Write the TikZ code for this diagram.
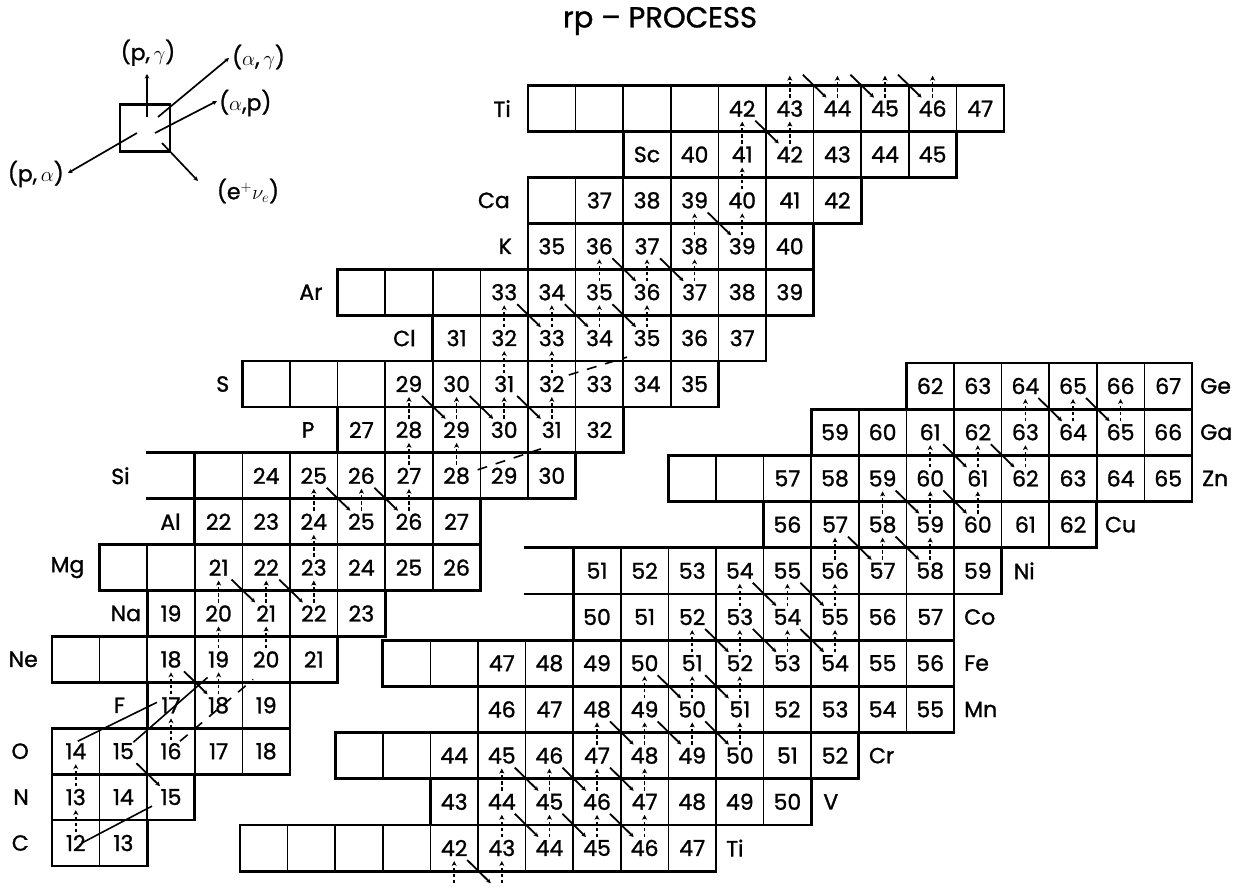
\documentclass[tikz,border=0pt]{standalone}
\usepackage{fontspec}
\setmainfont{Poppins}
\usetikzlibrary{arrows.meta,calc}
\newcommand\cellfont{\fontsize{22}{24}\selectfont\addfontfeatures{FakeBold=1.2}}
\newcommand\urow[5]{%
  \foreach \n in {#3,...,#5}{%
    \pgfmathtruncatemacro\A{#2+\n}%
    \ifnum\n<#4\relax
      \node[cell] (#1-n\n) at ({75.8+47.6*(\n-6)},{843-45.9*(#2-6)}) {};%
    \else
      \node[cell] (#1\A) at ({75.8+47.6*(\n-6)},{843-45.9*(#2-6)}) {\A};%
    \fi}%
  \draw[frame] ({52+47.6*(#3-6)},{820.05-45.9*(#2-6)}) rectangle ({52+47.6*(#5-5)},{865.95-45.9*(#2-6)});%
}
\newcommand\lrow[5]{%
  \foreach \n in {#3,...,#5}{%
    \pgfmathtruncatemacro\A{#2+\n}%
    \ifnum\n<#4\relax
      \node[lcell] (#1-n\n) at ({263.8+47.6*(\n-16)},{848-46.2*(#2-22)}) {};%
    \else
      \node[lcell] (#1\A) at ({263.8+47.6*(\n-16)},{848-46.2*(#2-22)}) {\A};%
    \fi}%
  \draw[frame] ({240+47.6*(#3-16)},{824.9-46.2*(#2-22)}) rectangle ({240+47.6*(#5-15)},{871.1-46.2*(#2-22)});%
}
\newcommand\pgar[2]{\draw[pg] ([yshift=11pt]#1.center) -- ([yshift=-13pt]#2.center);}
\newcommand\bpar[2]{\draw[bp] ([shift={(13pt,-12pt)}]#1.center) -- ([shift={(-11pt,11pt)}]#2.center);}
\begin{document}
\begin{tikzpicture}[x=1pt,y=-1pt,
  cell/.style={draw,line width=1.5pt,minimum width=47.6pt,minimum height=45.9pt,inner sep=0pt,outer sep=0pt,font=\cellfont},
  lcell/.style={cell,minimum height=46.2pt},
  frame/.style={line width=2.8pt,line join=miter},
  elab/.style={font=\cellfont,inner sep=0pt},
  pg/.style={line width=1.5pt,dash pattern=on 3.5pt off 2.5pt,-{Stealth[length=5pt,width=5pt]}},
  bp/.style={line width=1.8pt,-{Stealth[length=4.5pt,width=4.5pt]}},
  ap/.style={line width=1.6pt},
  apd/.style={line width=1.6pt,dash pattern=on 10pt off 9pt},
  leg/.style={line width=1.7pt,-{Stealth[length=4.5pt,width=4.5pt]}},
]
\fill[white] (0,0) rectangle (1243,889);
\useasboundingbox (0,0) rectangle (1243,889);

% title
\node[font=\fontsize{29}{32}\selectfont\addfontfeatures{FakeBold=1.2}] (title) at (660,21) {rp -- PROCESS};

% legend
\node[draw,line width=2.2pt,minimum width=50pt,minimum height=47pt,inner sep=0pt] (leg) at (145,128) {};
\node[elab,anchor=south] (lpg) at (148,66) {(p,\,$\gamma$)};
\node[elab,anchor=west] (lag) at (232,57) {($\alpha$,\,$\gamma$)};
\node[elab,anchor=west] (lap) at (219,103) {($\alpha$,p)};
\node[elab,anchor=east] (lpa) at (64,174) {(p,\,$\alpha$)};
\node[elab] (lev) at (248,191) {(e$^{+}\nu_{e}$)};
\coordinate (lpgE) at (147,74);
\coordinate (lagE) at (229,58);
\coordinate (lapE) at (217,101);
\coordinate (lpaE) at (68,173);
\coordinate (levE) at (198,181);
\draw[leg] ([shift={(2pt,11pt)}]leg.center) -- (lpgE);
\draw[leg] ([shift={(13pt,11pt)}]leg.center) -- (lagE);
\draw[leg] ([shift={(10pt,-5pt)}]leg.center) -- (lapE);
\draw[leg] ([shift={(-8pt,-5pt)}]leg.center) -- (lpaE);
\draw[leg] ([shift={(17pt,-15pt)}]leg.center) -- (levE);

% ---------- upper-left chart ----------
\urow{Ti}{22}{16}{20}{25}
\urow{Sc}{21}{18}{19}{24}
\urow{Ca}{20}{16}{17}{22}
\urow{K}{19}{16}{16}{21}
\urow{Ar}{18}{12}{15}{21}
\urow{Cl}{17}{14}{14}{20}
\urow{S}{16}{10}{13}{19}
\urow{P}{15}{12}{12}{17}
\urow{Si}{14}{9}{10}{16}
\urow{Al}{13}{9}{9}{14}
\urow{Mg}{12}{7}{9}{14}
\urow{Na}{11}{8}{8}{12}
\urow{Ne}{10}{6}{8}{11}
\urow{F}{9}{8}{8}{10}
\urow{O}{8}{6}{6}{10}
\urow{N}{7}{6}{6}{8}
\urow{C}{6}{6}{6}{7}
\draw[frame] ([xshift=-49pt]Si-n9.north west) -- (Si-n9.north west);
\draw[frame] ([xshift=-49pt]Si-n9.south west) -- (Si-n9.south west);

\node[elab] at (Sc-n18) {Sc};
\node[elab,anchor=east] at ([xshift=-17pt]Ti-n16.west) {Ti};
\node[elab,anchor=east] at ([xshift=-18pt]Ca-n16.west) {Ca};
\node[elab,anchor=east] at ([xshift=-16pt]K35.west) {K};
\node[elab,anchor=east] at ([xshift=-15pt]Ar-n12.west) {Ar};
\node[elab,anchor=east] at ([xshift=-17pt]Cl31.west) {Cl};
\node[elab,anchor=east] at ([xshift=-13pt]S-n10.west) {S};
\node[elab,anchor=east] at ([xshift=-23pt]P27.west) {P};
\node[elab,anchor=east] at ([xshift=-65pt]Si-n9.west) {Si};
\node[elab,anchor=east] at ([xshift=-14pt]Al22.west) {Al};
\node[elab,anchor=east] at ([xshift=-15pt]Mg-n7.west) {Mg};
\node[elab,anchor=east] at ([xshift=-6pt]Na19.west) {Na};
\node[elab,anchor=east] at ([xshift=-14pt]Ne-n6.west) {Ne};
\node[elab,anchor=east] at ([xshift=-22pt]F17.west) {F};
\node[elab,anchor=east] at ([xshift=-23pt]O14.west) {O};
\node[elab,anchor=east] at ([xshift=-23pt]N13.west) {N};
\node[elab,anchor=east] at ([xshift=-23pt]C12.west) {C};

% off-chart coordinates above Ti
\coordinate (V44) at ([yshift=45.9pt]Ti43.center);
\coordinate (V45) at ([yshift=45.9pt]Ti44.center);
\coordinate (V46) at ([yshift=45.9pt]Ti45.center);
\coordinate (V47) at ([yshift=45.9pt]Ti46.center);

% (p,gamma)
\pgar{C12}{N13}\pgar{N13}{O14}\pgar{O16}{F17}\pgar{F17}{Ne18}\pgar{F18}{Ne19}
\pgar{Ne19}{Na20}\pgar{Ne20}{Na21}\pgar{Na20}{Mg21}\pgar{Na21}{Mg22}\pgar{Na22}{Mg23}
\pgar{Mg23}{Al24}\pgar{Al24}{Si25}\pgar{Al25}{Si26}\pgar{Al26}{Si27}\pgar{Si27}{P28}
\pgar{P28}{S29}\pgar{Si28}{P29}\pgar{P29}{S30}\pgar{P30}{S31}\pgar{P31}{S32}
\pgar{S31}{Cl32}\pgar{S32}{Cl33}\pgar{Cl32}{Ar33}\pgar{Cl33}{Ar34}\pgar{Cl34}{Ar35}
\pgar{Cl35}{Ar36}\pgar{Ar35}{K36}\pgar{Ar36}{K37}\pgar{Ar37}{K38}\pgar{K38}{Ca39}
\pgar{K39}{Ca40}\pgar{Ca40}{Sc41}\pgar{Sc41}{Ti42}\pgar{Sc42}{Ti43}
\pgar{Ti43}{V44}\pgar{Ti44}{V45}\pgar{Ti45}{V46}\pgar{Ti46}{V47}
% beta+
\bpar{O15}{N15}\bpar{Ne18}{F18}\bpar{Mg21}{Na21}\bpar{Mg22}{Na22}
\bpar{Si25}{Al25}\bpar{Si26}{Al26}\bpar{S29}{P29}\bpar{S30}{P30}\bpar{S31}{P31}
\bpar{Ar33}{Cl33}\bpar{Ar34}{Cl34}\bpar{Ar35}{Cl35}\bpar{K36}{Ar36}\bpar{K37}{Ar37}
\bpar{Ca39}{K39}\bpar{Ti42}{Sc42}\bpar{V44}{Ti44}\bpar{V45}{Ti45}\bpar{V46}{Ti46}
% alpha reactions
\draw[ap] ([shift={(6pt,0pt)}]C12.center) -- ([shift={(-19pt,-9pt)}]N15.center);
\draw[ap] ([shift={(2pt,10pt)}]O14.center) -- ([shift={(-14pt,3pt)}]F17.center);
\draw[ap] ([shift={(10pt,9pt)}]O15.center) -- ([shift={(-11pt,-18pt)}]Ne19.center);
\draw[apd] ([shift={(9pt,10pt)}]O16.center) -- ([shift={(-13pt,-20pt)}]Ne20.center);
\draw[apd] ([shift={(21pt,6pt)}]Si28.center) -- ([shift={(-11pt,-19pt)}]P31.center);
\draw[apd] ([shift={(17pt,9pt)}]S32.center) -- ([shift={(-20pt,-19pt)}]Cl35.center);

% ---------- lower-right chart ----------
\lrow{LTi}{22}{16}{20}{25}
\lrow{LV}{23}{20}{20}{27}
\lrow{LCr}{24}{18}{20}{28}
\lrow{LMn}{25}{21}{21}{30}
\lrow{LFe}{26}{19}{21}{30}
\lrow{LCo}{27}{23}{23}{30}
\lrow{LNi}{28}{23}{23}{31}
\lrow{LCu}{29}{27}{27}{33}
\lrow{LZn}{30}{25}{27}{35}
\lrow{LGa}{31}{28}{28}{35}
\lrow{LGe}{32}{30}{30}{35}
\draw[frame] ([xshift=-49pt]LNi51.north west) -- (LNi51.north west);
\draw[frame] ([xshift=-49pt]LNi51.south west) -- (LNi51.south west);

\node[elab,anchor=west] at ([xshift=10pt]LTi47.east) {Ti};
\node[elab,anchor=west] at ([xshift=12pt]LV50.east) {V};
\node[elab,anchor=west] at ([xshift=10pt]LCr52.east) {Cr};
\node[elab,anchor=west] at ([xshift=10pt]LMn55.east) {Mn};
\node[elab,anchor=west] at ([xshift=10pt]LFe56.east) {Fe};
\node[elab,anchor=west] at ([xshift=10pt]LCo57.east) {Co};
\node[elab,anchor=west] at ([xshift=12pt]LNi59.east) {Ni};
\node[elab,anchor=west] at ([xshift=8pt]LCu62.east) {Cu};
\node[elab,anchor=west] at ([xshift=10pt]LZn65.east) {Zn};
\node[elab,anchor=west] at ([xshift=8pt]LGa66.east) {Ga};
\node[elab,anchor=west] at ([xshift=8pt]LGe67.east) {Ge};

\coordinate (LSc41) at ([yshift=-46.2pt]LTi42.center);
\coordinate (LSc42) at ([yshift=-46.2pt]LTi43.center);

\pgar{LSc41}{LTi42}\pgar{LSc42}{LTi43}
\pgar{LTi43}{LV44}\pgar{LTi44}{LV45}\pgar{LTi45}{LV46}\pgar{LTi46}{LV47}
\pgar{LV44}{LCr45}\pgar{LV45}{LCr46}\pgar{LV46}{LCr47}\pgar{LV47}{LCr48}
\pgar{LCr47}{LMn48}\pgar{LCr48}{LMn49}\pgar{LCr49}{LMn50}\pgar{LCr50}{LMn51}
\pgar{LMn49}{LFe50}\pgar{LMn50}{LFe51}\pgar{LMn51}{LFe52}
\pgar{LFe51}{LCo52}\pgar{LFe52}{LCo53}\pgar{LFe53}{LCo54}\pgar{LFe54}{LCo55}
\pgar{LCo53}{LNi54}\pgar{LCo54}{LNi55}\pgar{LCo55}{LNi56}
\pgar{LNi56}{LCu57}\pgar{LNi57}{LCu58}\pgar{LNi58}{LCu59}
\pgar{LCu58}{LZn59}\pgar{LCu59}{LZn60}\pgar{LCu60}{LZn61}
\pgar{LZn60}{LGa61}\pgar{LZn61}{LGa62}\pgar{LZn62}{LGa63}
\pgar{LGa63}{LGe64}\pgar{LGa64}{LGe65}\pgar{LGa65}{LGe66}

\bpar{LTi42}{LSc42}
\bpar{LV44}{LTi44}\bpar{LV45}{LTi45}\bpar{LV46}{LTi46}
\bpar{LCr45}{LV45}\bpar{LCr46}{LV46}\bpar{LCr47}{LV47}
\bpar{LMn48}{LCr48}\bpar{LMn49}{LCr49}\bpar{LMn50}{LCr50}
\bpar{LFe50}{LMn50}\bpar{LFe51}{LMn51}
\bpar{LCo52}{LFe52}\bpar{LCo53}{LFe53}\bpar{LCo54}{LFe54}
\bpar{LNi54}{LCo54}\bpar{LNi55}{LCo55}
\bpar{LCu57}{LNi57}\bpar{LCu58}{LNi58}
\bpar{LZn59}{LCu59}\bpar{LZn60}{LCu60}
\bpar{LGa61}{LZn61}\bpar{LGa62}{LZn62}
\bpar{LGe64}{LGa64}\bpar{LGe65}{LGa65}
\end{tikzpicture}
\end{document}
